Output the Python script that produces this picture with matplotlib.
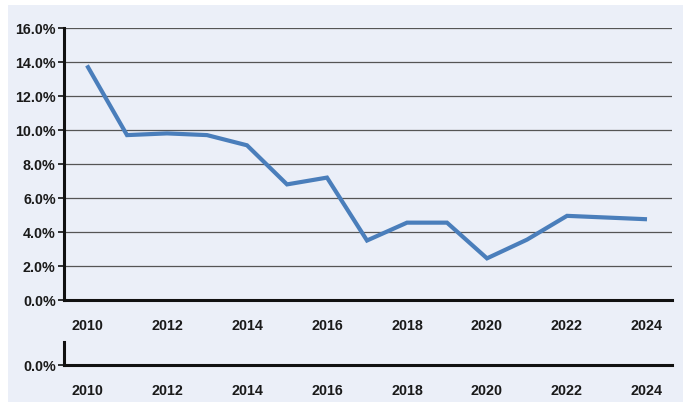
import numpy as np
import matplotlib.pyplot as plt
from matplotlib.patches import Rectangle
from matplotlib.ticker import FuncFormatter

years = [2010, 2011, 2012, 2013, 2014, 2015, 2016, 2017,
         2018, 2019, 2020, 2021, 2022, 2023, 2024]
rate = [13.8, 9.7, 9.8, 9.7, 9.1, 6.8, 7.2, 3.5,
        4.55, 4.55, 2.45, 3.55, 4.95, 4.85, 4.75]
x_ticks = [2010, 2012, 2014, 2016, 2018, 2020, 2022, 2024]
y_ticks = [0, 2, 4, 6, 8, 10, 12, 14, 16]

BG = "#ebeff8"
LINE = "#4a7ebb"
plt.rcParams['font.family'] = ['Liberation Sans', 'DejaVu Sans']

fig = plt.figure(figsize=(6.89, 4.10), dpi=100)
fig.patches.append(Rectangle((8 / 689, 7 / 410), 675 / 689, 397 / 410,
                             transform=fig.transFigure, facecolor=BG,
                             edgecolor="none", zorder=-10))

pct = FuncFormatter(lambda v, p: f"{v:.1f}%")


def style(ax):
    ax.patch.set_alpha(0)
    for s in ("top", "right"):
        ax.spines[s].set_visible(False)
    ax.spines["left"].set_linewidth(2.2)
    ax.spines["bottom"].set_linewidth(2.2)
    ax.spines["left"].set_color("#111111")
    ax.spines["bottom"].set_color("#111111")
    ax.set_xlim(2009.425, 2024.625)
    ax.set_xticks(x_ticks)
    ax.tick_params(axis="x", length=0, pad=13, labelsize=10.3)
    ax.tick_params(axis="y", length=4, width=1.2, pad=2, labelsize=10.3,
                   color="#111111")
    ax.yaxis.set_major_formatter(pct)
    for lab in ax.get_xticklabels() + ax.get_yticklabels():
        lab.set_fontweight("bold")
        lab.set_color("#1a1a1a")


# main panel
ax = fig.add_axes([64 / 689, 109 / 410, 608 / 689, 272 / 410])
ax.set_ylim(0, 16)
ax.set_yticks(y_ticks)
for v in y_ticks[1:]:
    ax.axhline(v, color="#555555", linewidth=0.9, zorder=1)
ax.plot(years, rate, color=LINE, linewidth=3.0, solid_capstyle="butt",
        solid_joinstyle="miter", zorder=3)
style(ax)

# small broken-axis panel
ax2 = fig.add_axes([64 / 689, 44 / 410, 608 / 689, 23 / 410])
ax2.set_ylim(0, 1)
ax2.set_yticks([0])
style(ax2)

fig.savefig("out.png", dpi=100, facecolor="white")
